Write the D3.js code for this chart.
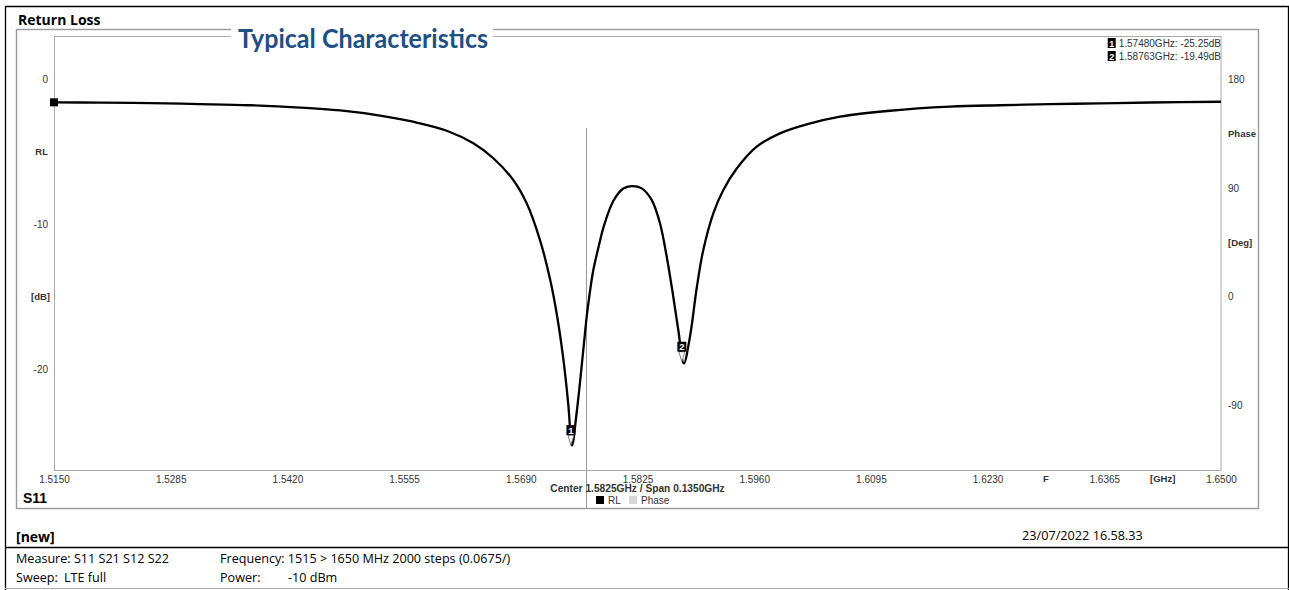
<!DOCTYPE html>
<html><head><meta charset="utf-8">
<script src="https://cdn.jsdelivr.net/npm/d3@7"></script>
<style>
body{margin:0;background:#fff;}
svg{display:block;}
.ax{font-family:"Liberation Sans",Arial,sans-serif;font-size:10px;fill:#333;}
.axb{font-family:"Liberation Sans",Arial,sans-serif;font-size:9.5px;font-weight:bold;fill:#333;}
.ui{font-family:"Open Sans","Noto Sans",sans-serif;}
</style>
</head><body>
<svg id="c" width="1289" height="590"></svg>
<script>
// ---- data ----
const freqGHz = [1.51500,1.52032,1.52611,1.53189,1.53767,1.54346,1.54809,1.55271,1.55653,1.56043,
  1.56351,1.56582,1.56813,1.56968,1.57122,1.57238,1.57315,1.57392,1.57449,1.57492,
  1.57547,1.57623,1.57662,1.57701,1.57739,1.57816,1.57854,1.57970,1.58086,1.58183,
  1.58299,1.58414,1.58510,1.58588,1.58664,1.58722,1.58786,1.58857,1.58935,1.59011,
  1.59127,1.59243,1.59398,1.59629,1.59898,1.60207,1.60593,1.61171,1.61865,1.62443,
  1.63022,1.63600,1.64179,1.65000];
const rlDB = [-1.58,-1.60,-1.64,-1.70,-1.78,-1.94,-2.14,-2.49,-2.92,-3.54,
  -4.41,-5.44,-6.94,-8.55,-11.09,-13.78,-16.16,-19.30,-22.41,-25.27,
  -22.96,-18.68,-16.40,-14.61,-13.16,-11.15,-10.26,-8.39,-7.53,-7.36,
  -7.52,-8.32,-9.93,-12.24,-15.00,-17.30,-19.61,-17.76,-14.40,-11.78,
  -9.24,-7.63,-6.15,-4.64,-3.72,-3.10,-2.57,-2.16,-1.88,-1.78,
  -1.71,-1.65,-1.59,-1.54];
const xTicks = [1.5150,1.5285,1.5420,1.5555,1.5690,1.5825,1.5960,1.6095,1.6230,1.6365,1.6500];
const rlTicks = [0,-10,-20];
const phaseTicks = [180,90,0,-90];
const markerIds = ["1","2"];
const markerFreq = [1.57480,1.58763];
const markerDB = [-25.25,-19.49];
const cursorFreq = 1.5766;
const legendNames = ["RL","Phase"];
const legendColors = ["#000000","#d6d6d6"];
const footerLeft = ["Measure: S11 S21 S12 S22","Sweep:"];
const footerLeft2 = ["","LTE full"];
const footerRight = ["Frequency: 1515 > 1650 MHz 2000 steps (0.0675/)","Power:"];
const footerRight2 = ["","-10 dBm"];

// ---- drawing ----
const svg = d3.select("#c");
const x = d3.scaleLinear().domain([1.515,1.65]).range([54,1221]);
const yL = d3.scaleLinear().domain([-27,3]).range([470.5,36]);
const yR = d3.scaleLinear().domain([-144,216]).range([470.5,36]);
const plain = d => String(d);

// outer frame
svg.append("path").attr("d","M5.5,590 V6.5 H1288.5 V590").attr("fill","none").attr("stroke","#000").attr("stroke-width",1.3);
svg.append("line").attr("x1",5).attr("x2",1289).attr("y1",547.5).attr("y2",547.5).attr("stroke","#000").attr("stroke-width",1.3);
svg.append("line").attr("x1",5).attr("x2",1289).attr("y1",588.5).attr("y2",588.5).attr("stroke","#aaa");

// inner panel
svg.append("rect").attr("x",16.5).attr("y",29.5).attr("width",1242).attr("height",479).attr("fill","none").attr("stroke","#999").attr("stroke-width",1.4);
// plot frame
svg.append("rect").attr("x",54.5).attr("y",36.5).attr("width",1166.5).attr("height",434).attr("fill","none").attr("stroke","#aaa").attr("stroke-width",1);

svg.append("text").attr("class","ui").attr("x",18).attr("y",25).attr("font-size",14).attr("font-weight","bold").attr("fill","#000").text("Return Loss");

// title over frame
svg.append("rect").attr("x",231).attr("y",24).attr("width",262).attr("height",24).attr("fill","#fff");
svg.append("text").attr("x",363).attr("y",48).attr("text-anchor","middle")
  .attr("font-family","Lato,'Open Sans',sans-serif").attr("font-weight","bold").attr("font-size",26)
  .attr("fill","#214f84").attr("textLength",250).attr("lengthAdjust","spacingAndGlyphs").text("Typical Characteristics");

// axes
const gx = svg.append("g").attr("transform","translate(0,470.5)")
  .call(d3.axisBottom(x).tickValues(xTicks).tickFormat(d3.format(".4f")).tickSize(0).tickPadding(5));
gx.select(".domain").remove();
gx.selectAll("text").attr("class","ax").attr("font-family",null).attr("font-size",null);

const gl = svg.append("g").attr("transform","translate(54,0)")
  .call(d3.axisLeft(yL).tickValues(rlTicks).tickFormat(plain).tickSize(0).tickPadding(6));
gl.select(".domain").remove();
gl.selectAll("text").attr("class","ax").attr("font-family",null).attr("font-size",null);

const gr = svg.append("g").attr("transform","translate(1221,0)")
  .call(d3.axisRight(yR).tickValues(phaseTicks).tickFormat(plain).tickSize(0).tickPadding(7));
gr.select(".domain").remove();
gr.selectAll("text").attr("class","ax").attr("font-family",null).attr("font-size",null);

// axis unit labels
svg.append("text").attr("class","axb").attr("x",48).attr("y",yL(-5)).attr("dy","0.35em").attr("text-anchor","end").text("RL");
svg.append("text").attr("class","axb").attr("x",50).attr("y",yL(-15)).attr("dy","0.35em").attr("text-anchor","end").text("[dB]");
svg.append("text").attr("class","axb").attr("x",1228).attr("y",yR(135)).attr("dy","0.35em").text("Phase");
svg.append("text").attr("class","axb").attr("x",1228).attr("y",yR(45)).attr("dy","0.35em").text("[Deg]");
svg.append("text").attr("class","axb").attr("x",x((xTicks[8]+xTicks[9])/2)).attr("y",482).attr("text-anchor","middle").text("F");
svg.append("text").attr("class","axb").attr("x",x((xTicks[9]+xTicks[10])/2)).attr("y",482).attr("text-anchor","middle").text("[GHz]");

// cursor line
svg.append("line").attr("x1",x(cursorFreq)).attr("x2",x(cursorFreq)).attr("y1",128).attr("y2",509).attr("stroke","#999").attr("stroke-width",1);

// curve
const pts = freqGHz.map((f,i)=>[f,rlDB[i]]);
svg.append("path").datum(pts)
  .attr("d",d3.line().x(d=>x(d[0])).y(d=>yL(d[1])).curve(d3.curveCatmullRom.alpha(0.5)))
  .attr("fill","none").attr("stroke","#000").attr("stroke-width",2.3).attr("stroke-linejoin","round");

// start square
svg.append("rect").attr("x",x(freqGHz[0])-4).attr("y",yL(rlDB[0])-4).attr("width",8).attr("height",8).attr("fill","#000");

// markers on curve
markerIds.forEach((id,i)=>{
  const cx = x(markerFreq[i]), cy = yL(markerDB[i]);
  svg.append("path").attr("d",`M${cx-3},${cy-10} L${cx+3},${cy-10} L${cx},${cy} Z`).attr("fill","#fff").attr("stroke","#666").attr("stroke-width",0.8);
  svg.append("rect").attr("x",cx-4.5).attr("y",cy-20).attr("width",9).attr("height",10).attr("fill","#000");
  svg.append("text").attr("x",cx).attr("y",cy-11.5).attr("text-anchor","middle").attr("font-family","'Liberation Sans',Arial")
    .attr("font-size",9.5).attr("font-weight","bold").attr("fill","#fff").text(id);
});

// marker readout
markerIds.forEach((id,i)=>{
  const yy = 47 + i*13;
  const t = svg.append("text").attr("class","ax").attr("x",1221).attr("y",yy).attr("text-anchor","end")
    .text(`${markerFreq[i].toFixed(5)}GHz: ${markerDB[i].toFixed(2)}dB`);
  const w = t.node().getComputedTextLength();
  svg.append("rect").attr("x",1221-w-11).attr("y",yy-9).attr("width",8).attr("height",10).attr("fill","#000");
  svg.append("text").attr("x",1221-w-7).attr("y",yy-0.5).attr("text-anchor","middle").attr("font-family","'Liberation Sans',Arial")
    .attr("font-size",9).attr("font-weight","bold").attr("fill","#fff").text(id);
});

// center/span text and legend
svg.append("text").attr("class","axb").attr("x",x(xTicks[5])).attr("y",492).attr("text-anchor","middle").style("font-size","10.2px")
  .text(`Center ${xTicks[5].toFixed(4)}GHz / Span ${(xTicks[10]-xTicks[0]).toFixed(4)}GHz`);
const legX = [596,629];
legendNames.forEach((n,i)=>{
  svg.append("rect").attr("x",legX[i]).attr("y",496).attr("width",8).attr("height",8).attr("fill",legendColors[i]);
  svg.append("text").attr("class","ax").attr("x",legX[i]+12).attr("y",504).text(n);
});

svg.append("text").attr("x",23).attr("y",503).attr("font-family","'Liberation Sans',Arial").attr("font-size",14).attr("font-weight","bold").attr("fill","#000").text("S11");

// footer
svg.append("text").attr("class","ui").attr("x",16).attr("y",542).attr("font-size",14).attr("font-weight","bold").text("[new]");
svg.append("text").attr("class","ui").attr("x",1022).attr("y",540).attr("font-size",12.7).text("23/07/2022 16.58.33");
footerLeft.forEach((t,i)=>{
  const yy = 563 + i*19;
  svg.append("text").attr("class","ui").attr("x",16).attr("y",yy).attr("font-size",12.6).text(t);
  svg.append("text").attr("class","ui").attr("x",64).attr("y",yy).attr("font-size",12.6).text(footerLeft2[i]);
  svg.append("text").attr("class","ui").attr("x",220).attr("y",yy).attr("font-size",12.6).text(footerRight[i]);
  svg.append("text").attr("class","ui").attr("x",288).attr("y",yy).attr("font-size",12.6).text(footerRight2[i]);
});
</script>
</body></html>
